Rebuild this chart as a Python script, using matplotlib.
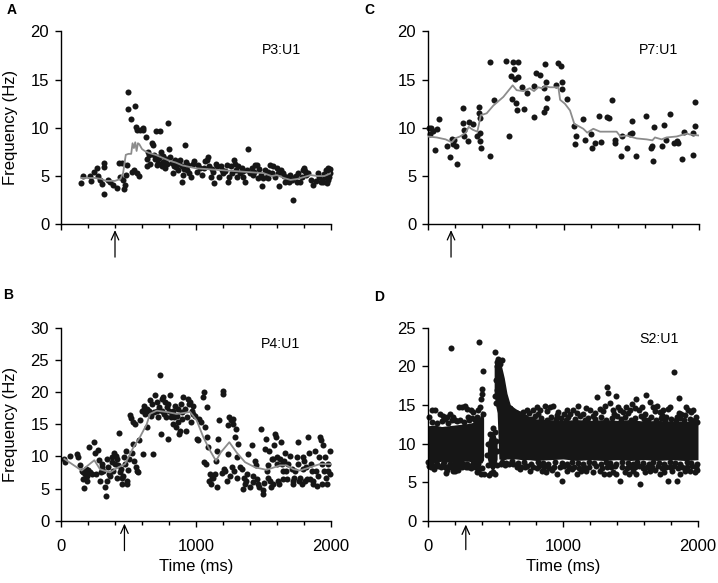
import numpy as np
import matplotlib
matplotlib.use('Agg')
import matplotlib.pyplot as plt
from matplotlib.ticker import MultipleLocator

plt.rcParams['font.family'] = ['Liberation Sans', 'DejaVu Sans']

# ---------------- Panel A : P3:U1 ----------------
A_t = [148, 160, 215, 220, 247, 264, 277, 289, 301, 321,
       321, 321, 351, 363, 383, 417, 430, 437, 449, 457,
       467, 474, 481, 486, 499, 499, 518, 528, 541, 548,
       553, 560, 565, 580, 585, 605, 610, 630, 635, 640,
       647, 672, 684, 689, 696, 704, 709, 718, 733, 741,
       746, 753, 763, 770, 783, 795, 800, 807, 820, 827,
       837, 844, 857, 869, 881, 894, 899, 906, 918, 931,
       938, 951, 960, 975, 988, 1005, 1017, 1030, 1042, 1059,
       1079, 1091, 1099, 1109, 1123, 1136, 1148, 1158, 1173, 1190,
       1202, 1227, 1234, 1247, 1257, 1269, 1284, 1296, 1306, 1313,
       1326, 1338, 1351, 1363, 1375, 1388, 1400, 1412, 1425, 1439,
       1449, 1462, 1481, 1491, 1499, 1511, 1523, 1536, 1548, 1560,
       1573, 1585, 1597, 1610, 1617, 1627, 1642, 1659, 1677, 1686,
       1696, 1709, 1721, 1733, 1746, 1758, 1770, 1783, 1795, 1802,
       1815, 1832, 1864, 1906, 1914, 1923, 1931, 1943, 1955, 1963,
       1975, 1980, 1988, 1993, 655, 662, 715, 725, 758, 775,
       850, 875, 912, 925, 1065, 1115, 1185, 1215, 1290, 1345,
       1432, 1470, 1530, 1655, 1690, 1740, 1810, 1850, 1890, 1990,
       1970, 1950]
A_f = [4.3, 5.0, 5.0, 4.5, 5.4, 5.8, 5.0, 4.6, 4.2, 6.4,
       5.9, 3.1, 4.6, 4.4, 4.1, 3.8, 6.4, 4.9, 6.4, 4.6,
       3.7, 4.1, 5.1, 6.1, 13.7, 11.9, 10.9, 5.4, 5.6, 12.3,
       10.1, 9.8, 5.3, 5.0, 9.8, 10.0, 9.8, 9.0, 6.8, 6.0,
       7.5, 8.4, 8.2, 7.2, 6.8, 9.7, 6.1, 7.0, 9.7, 7.5,
       6.0, 6.5, 6.3, 5.8, 6.3, 10.5, 7.8, 7.0, 6.4, 5.3,
       6.0, 6.7, 6.3, 5.6, 6.7, 6.0, 4.4, 5.1, 8.2, 5.6,
       6.1, 5.3, 4.9, 6.3, 6.6, 5.4, 6.1, 5.8, 5.1, 5.8,
       6.7, 7.0, 6.0, 4.9, 5.4, 4.3, 6.3, 6.0, 4.9, 5.6,
       5.3, 6.1, 4.4, 4.9, 6.0, 5.3, 6.7, 5.6, 4.9, 6.0,
       5.3, 5.8, 4.9, 4.4, 5.6, 7.8, 5.3, 5.8, 5.1, 6.1,
       6.1, 4.8, 5.1, 4.0, 4.8, 5.6, 4.9, 4.8, 6.1, 5.3,
       6.0, 4.9, 5.8, 5.3, 4.0, 5.6, 5.3, 4.4, 4.9, 4.4,
       5.1, 4.6, 2.5, 4.9, 4.4, 5.3, 4.4, 4.9, 5.6, 5.8,
       5.1, 5.3, 4.1, 5.3, 4.9, 4.4, 4.6, 4.4, 4.9, 5.6,
       5.8, 4.6, 4.9, 5.3, 7.2, 6.3, 6.4, 6.9, 7.1, 6.8,
       5.9, 6.3, 5.7, 6.5, 6.6, 5.7, 6.0, 5.5, 6.3, 5.5,
       5.4, 5.7, 5.4, 5.0, 4.8, 5.0, 5.5, 4.6, 4.5, 5.7,
       4.3, 5.2]
A_line_t = [150, 250, 300, 330, 400, 440, 460, 470, 480, 500,
            520, 530, 540, 550, 560, 570, 580, 600, 620, 650,
            700, 750, 800, 850, 900, 1000, 1100, 1200, 1300, 1400,
            1500, 1560, 1600, 1650, 1700, 1750, 1800, 1850, 1900, 1950,
            2000]
A_line_f = [4.8, 4.8, 4.7, 4.5, 4.5, 4.7, 5.3, 6.3, 7.2, 7.3,
            7.3, 8.4, 7.9, 8.5, 7.6, 8.4, 8.3, 7.8, 7.6, 7.4,
            7.2, 6.9, 6.6, 6.4, 6.1, 5.8, 5.7, 5.6, 5.5, 5.4,
            5.3, 5.0, 5.1, 4.8, 4.6, 4.7, 4.9, 5.1, 5.0, 5.0,
            5.3]

# ---------------- Panel C : P7:U1 ----------------
C_t = [5, 15, 22, 34, 49, 64, 84, 138, 162, 175,
       187, 194, 207, 212, 261, 261, 266, 266, 298, 300,
       335, 364, 376, 379, 383, 383, 383, 389, 458, 458,
       487, 573, 598, 610, 622, 630, 637, 642, 649, 654,
       662, 667, 696, 708, 728, 782, 785, 797, 827, 856,
       859, 863, 868, 871, 876, 945, 962, 979, 987, 987,
       1023, 1080, 1093, 1085, 1146, 1159, 1203, 1213, 1232, 1262,
       1279, 1319, 1335, 1358, 1380, 1380, 1422, 1434, 1466, 1491,
       1503, 1503, 1535, 1609, 1646, 1656, 1658, 1670, 1724, 1742,
       1754, 1786, 1818, 1835, 1847, 1872, 1892, 1953, 1958, 1970,
       1973]
C_f = [10.0, 9.4, 10.0, 9.7, 7.7, 9.9, 10.9, 8.1, 7.0, 8.8,
       8.3, 8.7, 8.1, 6.3, 12.1, 10.5, 9.8, 9.2, 8.6, 10.6,
       10.4, 9.1, 12.2, 11.5, 11.0, 9.5, 8.6, 7.9, 16.8, 7.1,
       12.9, 16.9, 9.1, 15.4, 13.0, 16.8, 16.1, 15.1, 12.6, 11.8,
       16.8, 15.3, 14.2, 11.9, 13.6, 11.1, 14.3, 15.7, 15.5, 14.1,
       11.6, 16.6, 12.1, 14.7, 13.1, 14.4, 16.7, 16.4, 14.7, 14.0,
       13.0, 10.2, 9.2, 8.3, 10.9, 8.7, 9.4, 7.9, 8.4, 11.2,
       8.5, 11.1, 11.0, 12.9, 8.7, 8.4, 7.1, 9.2, 7.9, 9.4,
       9.5, 10.7, 7.1, 11.2, 7.9, 8.1, 6.6, 10.1, 8.1, 10.3,
       8.7, 11.4, 8.4, 8.6, 8.4, 6.8, 9.6, 7.2, 9.5, 12.7,
       10.2]
C_line_t = [0, 64, 130, 175, 200, 236, 280, 300, 330, 364,
            375, 389, 433, 482, 556, 625, 654, 704, 750, 782,
            814, 840, 863, 900, 962, 975, 1010, 1048, 1080, 1095,
            1146, 1175, 1220, 1270, 1319, 1392, 1420, 1466, 1540, 1614,
            1656, 1675, 1724, 1760, 1835, 1910, 1934, 2000]
C_line_f = [9.1, 9.0, 8.8, 8.5, 8.9, 9.1, 9.5, 10.1, 9.8, 9.6,
            10.3, 11.3, 11.5, 12.3, 13.2, 14.4, 13.9, 13.8, 14.1, 13.8,
            14.2, 14.1, 14.3, 14.2, 14.2, 12.9, 12.5, 11.8, 10.4, 10.3,
            9.9, 9.5, 9.9, 9.6, 9.6, 9.6, 9.1, 9.2, 8.9, 8.8,
            8.7, 9.0, 8.8, 9.0, 9.1, 9.4, 9.3, 9.2]

# ---------------- Panel B : P4:U1 ----------------
B_t = [25, 30, 67, 121, 128, 141, 153, 160, 165, 170,
       178, 185, 190, 195, 202, 210, 215, 227, 247, 252,
       259, 272, 279, 289, 296, 301, 306, 314, 326, 333,
       338, 343, 351, 356, 363, 375, 380, 388, 395, 400,
       407, 412, 417, 425, 432, 437, 442, 449, 454, 462,
       467, 474, 479, 486, 491, 494, 501, 511, 518, 523,
       531, 536, 541, 548, 553, 560, 568, 578, 585, 597,
       605, 612, 617, 622, 635, 640, 652, 659, 664, 672,
       684, 689, 696, 709, 714, 721, 728, 733, 738, 746,
       751, 758, 765, 770, 778, 783, 790, 795, 802, 807,
       812, 820, 827, 832, 839, 844, 849, 857, 864, 869,
       877, 881, 889, 894, 899, 906, 918, 926, 931, 943,
       948, 956, 963, 968, 975, 980, 993, 1005, 1012, 1022,
       1037, 1049, 1059, 1062, 1067, 1074, 1079, 1084, 1091, 1096,
       1104, 1111, 1116, 1128, 1141, 1148, 1153, 1158, 1165, 1173,
       1190, 1197, 1202, 1207, 1215, 1227, 1234, 1239, 1247, 1252,
       1259, 1264, 1272, 1276, 1284, 1289, 1294, 1301, 1306, 1313,
       1326, 1338, 1346, 1355, 1363, 1370, 1375, 1388, 1400, 1412,
       1420, 1425, 1437, 1444, 1449, 1457, 1469, 1481, 1494, 1499,
       1506, 1511, 1518, 1523, 1531, 1536, 1543, 1548, 1553, 1560,
       1568, 1573, 1578, 1585, 1592, 1597, 1602, 1610, 1617, 1622,
       1630, 1634, 1642, 1647, 1654, 1659, 1667, 1672, 1684, 1696,
       1709, 1716, 1721, 1728, 1733, 1746, 1753, 1758, 1765, 1770,
       1783, 1790, 1795, 1800, 1807, 1815, 1820, 1832, 1839, 1844,
       1852, 1857, 1864, 1869, 1881, 1889, 1894, 1906, 1911, 1918,
       1923, 1931, 1936, 1943, 1948, 1955, 1963, 1968, 1975, 1980,
       1993, 1993]
B_f = [9.6, 9.2, 10.1, 10.4, 9.9, 8.6, 7.8, 7.5, 6.5, 5.1,
       7.3, 8.0, 6.2, 7.0, 7.9, 11.4, 7.5, 7.2, 12.2, 10.6,
       7.3, 11.0, 9.4, 6.2, 7.5, 8.4, 8.8, 7.8, 5.2, 3.9,
       6.2, 9.6, 8.3, 7.3, 7.0, 9.1, 9.9, 7.8, 10.6, 8.8,
       10.1, 6.7, 9.6, 8.6, 13.6, 7.5, 8.0, 6.6, 5.7, 7.0,
       9.9, 8.8, 10.9, 5.7, 6.2, 7.9, 9.6, 16.5, 16.0, 10.6,
       11.9, 15.3, 9.3, 15.0, 8.3, 7.8, 7.5, 12.5, 15.6, 17.1,
       10.4, 17.9, 17.4, 16.6, 14.5, 17.4, 17.1, 18.7, 16.3, 18.2,
       10.4, 16.9, 19.5, 17.1, 18.4, 16.1, 17.6, 22.7, 13.5, 18.9,
       17.1, 19.2, 16.6, 18.4, 16.1, 17.6, 18.2, 12.7, 17.1, 19.5,
       16.1, 16.6, 15.0, 17.1, 16.1, 17.9, 14.5, 16.3, 17.4, 15.3,
       13.5, 14.0, 18.2, 15.8, 16.9, 19.2, 17.4, 14.0, 16.1, 18.9,
       18.2, 18.4, 15.3, 17.1, 16.6, 17.9, 16.3, 12.7, 12.5, 15.8,
       15.3, 19.2, 20.0, 9.1, 14.5, 8.8, 17.6, 13.0, 11.4, 6.2,
       7.3, 5.7, 6.7, 6.7, 7.2, 9.3, 5.2, 10.9, 12.7, 15.6,
       7.4, 20.2, 19.7, 8.0, 7.8, 6.2, 10.4, 14.8, 16.1, 7.0,
       15.6, 8.3, 15.0, 15.8, 7.8, 13.0, 14.3, 6.7, 9.9, 11.9,
       8.3, 8.0, 4.9, 6.7, 5.7, 6.2, 7.2, 10.4, 5.3, 11.7,
       7.0, 6.0, 9.3, 8.7, 6.5, 5.7, 5.2, 14.3, 4.7, 4.2,
       5.8, 11.2, 12.7, 7.8, 8.6, 6.7, 10.9, 6.2, 5.2, 9.6,
       9.6, 5.7, 11.7, 13.5, 13.0, 9.9, 8.8, 6.2, 5.7, 9.6,
       12.2, 8.8, 7.8, 6.5, 9.3, 10.6, 7.8, 6.5, 8.8, 10.1,
       8.0, 5.7, 6.2, 6.7, 7.8, 9.9, 8.8, 12.2, 6.2, 6.7,
       5.7, 8.0, 9.9, 9.3, 6.2, 8.3, 6.5, 13.0, 10.6, 6.5,
       8.8, 7.8, 5.7, 6.2, 10.9, 7.8, 5.4, 7.0, 9.9, 13.0,
       12.5, 5.7, 8.8, 11.7, 7.8, 9.9, 6.7, 5.7, 8.8, 7.8,
       10.9, 7.2]
B_line_t = [25, 153, 247, 289, 363, 425, 474, 536, 585, 635,
            659, 709, 783, 857, 894, 956, 1005, 1054, 1104, 1148,
            1183, 1247, 1301, 1363, 1437, 1523, 1622, 1672, 1721, 1770,
            1844, 1918, 2000]
B_line_f = [9.6, 7.8, 9.4, 8.0, 7.5, 8.3, 8.8, 11.4, 13.0, 15.0,
            16.6, 17.1, 16.9, 16.6, 16.7, 16.9, 15.6, 13.0, 10.9, 9.3,
            10.6, 12.2, 10.6, 9.1, 8.3, 7.9, 8.6, 8.6, 8.0, 7.8,
            8.3, 8.8, 8.8]

# ---------------- Panel D : S2:U1 ----------------
# dense core of the spike cloud (lower / upper bound of the solid black band)
D_core1_t = [0, 50, 100, 150, 200, 250, 300, 350, 380, 400, 412]
D_core1_lo = [7.6, 7.5, 7.7, 7.6, 7.5, 7.7, 7.7, 7.5, 7.4, 7.5, 7.9]
D_core1_hi = [12.3, 12.4, 12.2, 12.3, 12.4, 12.5, 12.6, 12.8, 13.3, 14.3, 13.3]
D_core2_t = [440, 455, 470, 485, 500, 512]
D_core2_lo = [8.0, 7.0, 6.6, 6.6, 7.0, 8.0]
D_core2_hi = [10.0, 11.0, 11.5, 11.6, 11.0, 10.0]
D_core3_t = [490, 500, 512, 525, 545, 565, 585, 610, 650, 700,
             750, 800, 900, 1000, 1100, 1200, 1300, 1400, 1500, 1600,
             1700, 1800, 1900, 2000]
D_core3_lo = [16.5, 15.0, 14.0, 8.0, 7.9, 7.9, 8.0, 8.0, 8.0, 7.9,
              7.9, 7.8, 7.9, 8.0, 7.8, 7.9, 7.8, 7.9, 7.8, 7.9,
              7.8, 7.9, 7.8, 7.9]
D_core3_hi = [20.0, 21.0, 20.5, 20.3, 20.0, 18.5, 16.5, 15.0, 14.5, 14.0,
              13.5, 13.2, 13.1, 13.0, 13.1, 13.0, 13.1, 13.0, 13.1, 12.9,
              13.0, 12.9, 12.9, 12.8]
# individual spikes on the upper edge and above
D_hi_t = [10, 27, 52, 89, 113, 126, 143, 163, 187, 200,
          232, 249, 274, 286, 298, 316, 335, 360, 372, 385,
          390, 397, 402, 404, 380, 170, 409, 30, 70, 100,
          150, 175, 215, 240, 265, 300, 325, 345, 700, 730,
          779, 804, 829, 866, 903, 927, 964, 1006, 1051, 1075,
          1112, 1149, 1198, 1223, 1253, 1272, 1309, 1327, 1334, 1346,
          1371, 1391, 1408, 1445, 1470, 1494, 1514, 1544, 1563, 1588,
          1618, 1642, 1667, 1699, 1716, 1741, 1766, 1790, 1825, 1845,
          1859, 1877, 1914, 1926, 1951, 1975, 1993, 720, 760, 790,
          840, 880, 910, 945, 985, 1020, 1040, 1090, 1125, 1160,
          1185, 1240, 1285, 1320, 1360, 1400, 1430, 1460, 1505, 1530,
          1575, 1600, 1630, 1655, 1690, 1725, 1755, 1800, 1835, 1870,
          1895, 1940, 1965, 1985, 660, 680, 745, 815, 885, 955,
          1030, 1100, 1170, 1235, 1295, 1380, 1420, 1480, 1530, 1610,
          1680, 1735, 1780, 1860, 1905, 1960]
D_hi_f = [13.4, 14.3, 14.4, 13.8, 13.6, 13.2, 13.4, 13.8, 13.4, 13.0,
          14.7, 14.7, 14.9, 14.5, 13.4, 14.3, 14.1, 13.4, 14.3, 14.7,
          15.8, 16.4, 17.1, 19.4, 23.1, 22.4, 13.8, 12.8, 12.7, 12.9,
          12.7, 13.0, 12.9, 13.1, 12.8, 13.0, 13.3, 13.1, 14.1, 14.4,
          14.3, 14.7, 14.3, 14.9, 14.7, 14.9, 14.1, 13.8, 13.8, 14.3,
          14.9, 13.8, 14.3, 13.6, 16.0, 14.5, 14.9, 17.3, 16.5, 15.2,
          14.3, 16.1, 14.7, 14.1, 14.7, 14.3, 15.1, 15.7, 14.3, 14.7,
          16.3, 15.4, 14.7, 14.9, 14.1, 14.3, 13.4, 14.7, 19.3, 13.4,
          15.9, 13.8, 14.7, 14.3, 14.1, 13.0, 12.8, 13.4, 13.2, 13.5,
          13.3, 13.1, 13.4, 13.2, 13.3, 13.1, 13.4, 13.2, 13.5, 13.1,
          13.3, 13.2, 13.4, 13.1, 13.3, 13.5, 13.2, 13.4, 13.1, 13.3,
          13.5, 13.2, 13.0, 13.4, 13.1, 13.3, 13.0, 13.2, 13.0, 13.3,
          13.1, 13.2, 12.9, 13.4, 14.0, 13.8, 14.0, 13.8, 14.2, 13.7,
          14.4, 13.9, 14.6, 13.9, 14.2, 13.8, 14.4, 13.9, 14.6, 13.8,
          14.2, 13.7, 14.5, 14.0, 13.7, 14.4]
# individual spikes on the lower edge and below
D_lo_t = [2, 20, 44, 76, 113, 133, 143, 168, 187, 200,
          219, 237, 261, 281, 306, 330, 365, 390, 414, 656,
          681, 718, 755, 804, 848, 873, 915, 952, 994, 1026,
          1063, 1100, 1137, 1174, 1223, 1272, 1305, 1342, 1371, 1396,
          1420, 1457, 1489, 1519, 1544, 1573, 1605, 1642, 1679, 1716,
          1746, 1778, 1810, 1845, 1864, 1901, 1938, 1975, 1993, 10,
          35, 60, 95, 125, 155, 180, 210, 250, 270, 295,
          320, 345, 375, 400, 690, 735, 780, 825, 860, 895,
          935, 975, 1010, 1045, 1080, 1120, 1155, 1195, 1245, 1290,
          1325, 1355, 1385, 1440, 1475, 1500, 1530, 1560, 1590, 1625,
          1660, 1700, 1730, 1765, 1795, 1825, 1855, 1885, 1920, 1955,
          1985, 540, 570, 600, 630]
D_lo_f = [7.6, 6.9, 6.7, 7.1, 7.4, 6.2, 6.6, 6.9, 6.5, 6.4,
          6.6, 7.1, 7.4, 6.9, 7.1, 7.4, 6.3, 6.1, 6.0, 6.9,
          6.7, 6.9, 6.5, 6.8, 6.5, 6.3, 6.6, 6.1, 5.2, 6.5,
          6.7, 6.1, 6.4, 6.5, 6.3, 6.5, 6.1, 6.0, 6.3, 6.0,
          5.2, 6.3, 6.0, 6.5, 6.1, 4.7, 6.3, 6.5, 6.6, 6.1,
          6.3, 5.2, 6.5, 5.2, 6.0, 6.5, 6.4, 6.3, 6.6, 7.1,
          7.0, 7.2, 6.9, 7.0, 7.1, 7.2, 7.0, 6.9, 7.2, 7.0,
          6.8, 7.0, 6.7, 6.8, 7.0, 7.1, 6.9, 7.1, 7.0, 6.8,
          7.0, 6.9, 7.1, 6.9, 7.0, 6.8, 7.0, 6.9, 7.1, 6.8,
          7.0, 6.9, 7.1, 6.9, 6.8, 7.0, 6.9, 7.1, 6.8, 7.0,
          6.9, 7.1, 6.8, 7.0, 6.9, 7.1, 6.8, 7.0, 6.9, 7.1,
          6.9, 7.3, 7.2, 7.4, 7.3]
D_lo2_t = [25, 70, 115, 160, 205, 245, 290, 335, 370, 545,
           580, 620, 665, 710, 760, 815, 850, 890, 940, 990,
           1030, 1070, 1110, 1150, 1190, 1230, 1280, 1315, 1350, 1395,
           1435, 1480, 1515, 1550, 1595, 1635, 1670, 1710, 1750, 1790,
           1830, 1870, 1915, 1950, 1990]
D_lo2_f = [7.5, 7.4, 7.6, 7.4, 7.5, 7.6, 7.4, 7.5, 7.3, 7.6,
           7.5, 7.7, 7.5, 7.6, 7.4, 7.6, 7.5, 7.4, 7.6, 7.5,
           7.4, 7.6, 7.5, 7.4, 7.6, 7.5, 7.4, 7.6, 7.5, 7.4,
           7.6, 7.5, 7.4, 7.6, 7.5, 7.4, 7.6, 7.5, 7.4, 7.6,
           7.5, 7.4, 7.6, 7.5, 7.4]
# the dip lobe and the burst peak
D_pk_t = [440, 448, 460, 479, 495, 505, 512, 454, 470, 485,
          496, 508, 445, 496, 546, 513, 509, 528, 504, 538,
          513, 553, 496, 528, 570, 582, 607, 504, 520, 535]
D_pk_f = [8.5, 10.0, 11.2, 12.0, 11.5, 10.3, 9.0, 5.9, 6.2, 6.3,
          6.1, 7.2, 7.2, 21.8, 20.8, 20.6, 20.0, 19.1, 18.2, 17.8,
          16.9, 16.5, 16.1, 15.6, 15.4, 14.8, 14.6, 15.2, 20.9, 20.3]

stim_t = {'A': 400, 'B': 470, 'C': 170, 'D': 280}

# ---------------- figure ----------------
W, H = 718, 583
fig = plt.figure(figsize=(W / 100, H / 100), dpi=100)
axA = fig.add_axes([61 / W, 1 - 224.3 / H, 270 / W, 193 / H])
axC = fig.add_axes([428 / W, 1 - 224.3 / H, 271 / W, 193 / H])
axB = fig.add_axes([61 / W, 1 - 520.7 / H, 270 / W, 193 / H])
axD = fig.add_axes([428 / W, 1 - 520.7 / H, 270 / W, 193 / H])

DOT = '#161616'
GRAY = '#8c8c8c'
S = 19
FS = 12


def style(ax, ymax, xlabels, ylabel):
    ax.set_xlim(0, 2000)
    ax.set_ylim(0, ymax)
    for s in ['top', 'right']:
        ax.spines[s].set_visible(False)
    for s in ['left', 'bottom']:
        ax.spines[s].set_linewidth(1.0)
    ax.xaxis.set_major_locator(MultipleLocator(1000))
    ax.xaxis.set_minor_locator(MultipleLocator(200))
    ax.yaxis.set_major_locator(MultipleLocator(5))
    ax.tick_params(axis='y', which='major', direction='out', length=4.5,
                   width=1.0, pad=4.0, labelsize=FS)
    ax.tick_params(axis='x', which='major', direction='out', length=4,
                   width=1.0, pad=9.0, labelsize=FS)
    ax.tick_params(axis='x', which='minor', direction='out', length=3,
                   width=1.0)
    if not xlabels:
        ax.tick_params(axis='x', labelbottom=False)
    else:
        ax.set_xlabel('Time (ms)', fontsize=FS)
        ax.xaxis.set_label_coords(0.5, -0.2)
    if ylabel:
        ax.set_ylabel('Frequency (Hz)', fontsize=FS)
        ax.yaxis.set_label_coords(-0.16, 0.5)


def arrow(ax, t, tip, tail):
    ax.annotate('', xy=(t, tip), xycoords=('data', 'axes fraction'),
                xytext=(t, tail), textcoords=('data', 'axes fraction'),
                arrowprops=dict(arrowstyle='->,head_length=0.6,head_width=0.27',
                                lw=0.9, color='black', shrinkA=0, shrinkB=0),
                annotation_clip=False)


# A
axA.scatter(A_t, A_f, s=S, color=DOT, linewidths=0, zorder=2, clip_on=False)
axA.plot(A_line_t, A_line_f, color=GRAY, lw=1.3, zorder=3)
style(axA, 20, False, True)
axA.text(1489, 17.6, 'P3:U1', fontsize=10.2)
arrow(axA, stim_t['A'], -0.03, -0.17)

# C
axC.scatter(C_t, C_f, s=S, color=DOT, linewidths=0, zorder=2, clip_on=False)
axC.plot(C_line_t, C_line_f, color=GRAY, lw=1.3, zorder=3)
style(axC, 20, False, False)
axC.text(1559, 17.6, 'P7:U1', fontsize=10.2)
arrow(axC, stim_t['C'], -0.03, -0.17)

# B
axB.scatter(B_t, B_f, s=S, color=DOT, linewidths=0, zorder=2, clip_on=False)
axB.plot(B_line_t, B_line_f, color=GRAY, lw=1.3, zorder=3)
style(axB, 30, True, True)
axB.text(1484, 26.9, 'P4:U1', fontsize=10.2)
arrow(axB, stim_t['B'], -0.015, -0.155)

# D
for tt, lo, hi in [(D_core1_t, D_core1_lo, D_core1_hi),
                   (D_core2_t, D_core2_lo, D_core2_hi),
                   (D_core3_t, D_core3_lo, D_core3_hi)]:
    axD.fill_between(tt, lo, hi, color=DOT, lw=0, zorder=1)
for tt, ff in [(D_hi_t, D_hi_f), (D_lo_t, D_lo_f), (D_lo2_t, D_lo2_f),
               (D_pk_t, D_pk_f)]:
    axD.scatter(tt, ff, s=S, color=DOT, linewidths=0, zorder=2, clip_on=False)
style(axD, 25, True, False)
axD.text(1565, 23.05, 'S2:U1', fontsize=10.2)
arrow(axD, stim_t['D'], -0.02, -0.15)

# panel letters
for letter, x, y in [('A', 7, 14), ('C', 364, 14), ('B', 3, 299), ('D', 374, 301)]:
    fig.text(x / W, 1 - y / H, letter, fontsize=10, fontweight='bold',
             ha='left', va='baseline')

fig.savefig('out.png', dpi=100)
